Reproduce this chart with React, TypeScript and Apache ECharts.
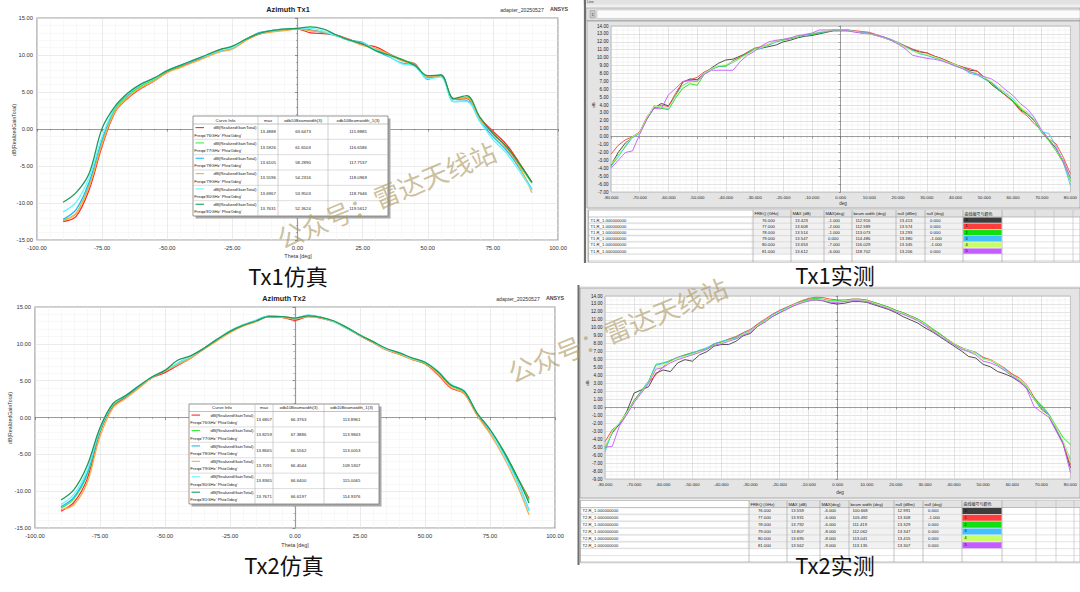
import React, { useEffect, useRef } from "react";
import * as echarts from "echarts";

// ---------------- data ----------------
const simTheta = [-90,-85,-80,-75,-70,-65,-60,-55,-50,-45,-40,-35,-30,-25,-20,-15,-10,-5,0,5,10,15,20,25,30,35,40,45,50,55,60,65,70,75,80,85,90];
const measTheta = [-80,-77.5,-75,-72.5,-70,-67.5,-65,-62.5,-60,-57.5,-55,-52.5,-50,-47.5,-45,-42.5,-40,-37.5,-35,-32.5,-30,-27.5,-25,-22.5,-20,-17.5,-15,-12.5,-10,-7.5,-5,-2.5,0,
  2.5,5,7.5,10,12.5,15,17.5,20,22.5,25,27.5,30,32.5,35,37.5,40,42.5,45,47.5,50,52.5,55,57.5,60,62.5,65,67.5,70,72.5,75,77.5,80];

const simFreqs = ["76GHz", "77GHz", "78GHz", "79GHz", "80GHz", "81GHz"];

// Tx1 simulation (dB)
const tx1Sim76 = [-12.5,-11.8,-8.2,-2.3,2.3,4.2,5.5,6.5,7.7,8.4,9.1,9.8,10.7,11.0,12.0,12.8,13.2,13.4,13.5,13.0,12.9,12.7,12.1,11.4,11.1,10.2,9.3,8.8,6.9,7.2,4.0,4.1,1.5,-0.3,-2.0,-4.5,-7.2];
const tx1Sim77 = [-12.3,-11.4,-7.6,-1.8,2.6,4.5,5.8,6.7,7.8,8.5,9.2,9.9,10.6,11.1,12.1,12.9,13.2,13.4,13.6,13.3,13.1,12.6,12.0,11.6,10.8,10.1,9.4,8.7,7.0,7.2,4.0,4.3,1.4,-0.6,-2.4,-4.8,-7.3];
const tx1Sim78 = [-12.2,-10.9,-7.2,-1.4,2.9,4.7,6.0,6.8,7.9,8.6,9.2,9.8,10.5,10.9,12.0,13.0,13.3,13.5,13.6,13.4,13.0,12.6,12.0,11.7,10.6,9.8,8.9,8.7,6.7,7.3,3.7,3.8,1.1,-1.0,-2.8,-5.2,-8.2];
const tx1Sim79 = [-12.4,-11.4,-7.8,-2.0,2.4,4.3,5.6,6.5,7.6,8.3,9.0,9.7,10.4,10.8,11.9,12.8,13.1,13.3,13.5,13.3,13.1,12.7,12.0,11.3,10.9,10.1,9.2,8.6,7.1,7.2,4.1,4.2,1.3,-0.6,-2.5,-5.0,-8.6];
const tx1Sim80 = [-11.2,-9.9,-6.6,-1.0,3.0,4.8,6.0,6.8,7.9,8.6,9.3,9.9,10.6,11.0,12.1,12.9,13.3,13.5,13.6,13.6,13.2,12.6,11.9,11.6,10.7,9.9,8.8,8.5,6.8,7.0,3.7,3.7,1.0,-1.4,-3.2,-5.6,-8.3];
const tx1Sim81 = [-9.9,-8.6,-6.0,0.1,3.1,4.9,6.1,6.9,7.9,8.6,9.3,10.0,10.7,11.2,12.1,12.9,13.3,13.5,13.6,13.8,13.5,12.7,12.0,11.5,10.6,10.0,9.4,8.6,7.2,7.3,4.1,4.5,1.6,-0.6,-2.3,-4.6,-7.2];

const tx1SimMax = ["13.4888", "13.5926", "13.6105", "13.5596", "13.6967", "13.7631"];
const tx1SimBw = ["63.6473", "61.6503", "58.2890", "54.2316", "53.9503", "52.3624"];
const tx1SimBw1 = ["115.8885", "116.6586", "117.7537", "118.0969", "118.7646", "119.5612"];

// Tx2 simulation (dB)
const tx2Sim76 = [-12.7,-11.5,-8.4,-2.0,1.5,2.8,4.1,5.4,6.1,7.1,8.1,9.3,10.5,11.6,12.5,13.1,13.7,13.6,13.2,13.7,13.5,13.0,12.1,11.1,10.2,9.2,8.6,7.9,7.3,5.8,4.0,3.3,0.4,-1.9,-4.6,-7.8,-11.0];
const tx2Sim77 = [-12.3,-11.0,-7.8,-1.8,1.7,2.9,4.2,5.5,6.3,7.3,8.2,9.4,10.5,11.7,12.5,13.1,13.7,13.7,13.4,13.8,13.6,13.1,12.2,11.2,10.3,9.3,8.6,8.0,7.3,6.1,4.3,3.5,0.6,-1.7,-4.5,-7.8,-11.2];
const tx2Sim78 = [-12.1,-10.8,-7.6,-1.7,1.8,2.9,4.2,5.5,6.3,7.4,8.3,9.4,10.6,11.7,12.5,13.2,13.8,13.7,13.4,13.9,13.6,13.0,12.1,11.1,10.2,9.3,8.7,8.0,7.5,6.2,4.4,3.6,0.5,-1.8,-4.8,-8.2,-12.6];
const tx2Sim79 = [-12.5,-11.8,-8.9,-2.6,1.3,2.6,4.0,5.4,6.3,7.2,8.1,9.3,10.4,11.5,12.4,13.0,13.7,13.6,13.4,13.7,13.5,13.0,12.1,11.1,10.2,9.2,8.6,7.9,7.4,5.9,4.1,3.3,0.3,-2.2,-5.2,-8.8,-13.2];
const tx2Sim80 = [-11.8,-10.4,-7.2,-1.6,1.8,3.0,4.3,5.5,6.4,7.4,8.3,9.4,10.6,11.8,12.6,13.2,13.7,13.7,13.5,13.9,13.6,13.0,12.1,11.2,10.3,9.3,8.8,8.0,7.5,6.3,4.5,3.6,0.6,-1.8,-4.9,-8.4,-12.7];
const tx2Sim81 = [-11.2,-9.8,-6.6,-1.4,1.9,3.0,4.3,5.5,6.4,7.8,8.4,9.4,10.6,11.7,12.5,13.1,13.7,13.7,13.5,13.8,13.6,13.1,12.2,11.2,10.3,9.4,8.8,8.1,7.5,6.2,4.4,3.6,0.6,-1.6,-4.4,-7.7,-11.6];

const tx2SimMax = ["13.6807", "13.8259", "13.8665", "13.7091", "13.8365", "13.7671"];
const tx2SimBw = ["66.3763", "67.3886", "66.5562", "66.4044", "66.6400", "66.6197"];
const tx2SimBw1 = ["113.8961", "113.9843", "113.0053", "109.5307", "115.0065", "114.9376"];

// Tx1 measured (dB), theta -80..80 step 2.5
const tx1Meas0 = [-3.6,-2.0,-0.8,-0.1,0.5,2.3,3.6,4.2,3.9,5.2,6.9,7.3,7.2,8.0,8.7,9.3,9.7,9.8,10.2,10.6,11.0,11.2,11.4,11.6,12.0,12.2,12.5,12.7,12.8,13.0,13.2,13.4,13.4,
  13.4,13.3,13.1,13.0,12.8,12.5,12.2,11.8,11.4,11.0,10.7,10.6,10.2,9.9,9.5,9.1,8.8,8.4,8.3,7.5,6.6,5.9,5.2,4.5,3.4,2.9,2.0,0.7,-0.4,-1.5,-3.0,-5.3];
const tx1Meas1 = [-2.2,-1.1,-0.4,0.0,0.6,2.5,3.6,4.0,3.8,5.5,6.9,7.2,7.5,8.2,8.6,8.9,9.0,9.6,10.1,10.7,11.2,11.4,11.7,12.1,12.3,12.4,12.7,12.9,13.0,13.2,13.3,13.5,13.5,
  13.5,13.4,13.3,13.2,12.9,12.6,12.3,11.9,11.5,11.1,10.8,10.6,10.2,9.9,9.5,9.1,8.8,8.6,8.3,7.5,6.8,6.0,5.2,4.4,3.3,2.6,1.6,0.8,-0.3,-0.9,-2.6,-4.7];
const tx1Meas2 = [-3.8,-2.3,-1.3,0.0,0.5,2.2,3.8,3.6,3.4,4.9,6.1,6.7,6.5,7.9,8.5,8.9,8.9,9.5,10.0,10.6,11.1,11.3,11.6,12.0,12.2,12.4,12.6,12.9,12.9,13.1,13.3,13.4,13.4,
  13.4,13.3,13.1,13.1,12.8,12.6,12.2,11.8,11.3,10.9,10.5,10.3,10.0,9.8,9.4,9.0,8.7,8.2,8.0,7.3,6.8,5.9,5.3,4.5,3.6,2.8,2.0,0.5,-0.5,-1.8,-3.3,-5.6];
const tx1Meas3 = [-3.7,-2.6,-1.2,-0.1,0.4,2.4,3.9,3.8,3.5,5.2,6.5,7.0,7.0,8.0,8.6,8.9,9.0,9.4,9.9,10.5,11.0,11.2,11.6,12.0,12.3,12.5,12.6,12.9,13.0,13.2,13.3,13.5,13.5,
  13.5,13.3,13.2,13.1,12.8,12.6,12.3,11.9,11.4,10.9,10.5,10.3,10.0,9.7,9.3,9.0,8.6,8.0,7.8,7.3,6.9,6.1,5.5,4.8,3.7,3.1,2.2,0.6,0.4,-1.2,-3.2,-6.2];
const tx1Meas4 = [-3.5,-2.4,-1.0,0.0,0.5,2.4,3.8,3.8,3.6,5.1,6.4,6.9,6.9,8.0,8.6,9.0,9.1,9.5,9.9,10.4,11.0,11.3,11.7,12.1,12.3,12.5,12.7,13.0,13.1,13.3,13.4,13.5,13.5,
  13.4,13.3,13.1,13.0,12.8,12.5,12.2,11.8,11.3,10.8,10.6,10.4,10.1,9.8,9.4,9.1,8.7,8.2,8.0,7.5,7.0,6.3,5.6,4.9,3.8,3.0,2.2,0.7,-0.3,-1.3,-3.1,-5.4];
const tx1Meas5 = [-4.0,-3.0,-2.0,-1.8,0.3,2.2,3.6,3.5,5.3,6.1,7.0,7.1,7.0,7.9,8.4,8.4,8.4,8.4,9.5,10.3,10.8,11.5,12.0,12.2,12.3,12.5,12.8,12.9,13.1,13.5,13.5,13.5,13.5,
  13.4,13.2,13.1,13.1,12.8,12.6,12.2,11.7,11.1,10.3,10.1,9.9,9.8,9.6,9.3,8.9,8.6,8.2,7.9,7.6,7.3,6.7,5.9,5.2,4.2,3.5,2.4,0.8,-0.4,-1.4,-3.2,-5.2];

// Tx2 measured (dB), theta -80..80 step 2.5
const tx2Meas0 = [-5.0,-3.2,-2.1,-0.5,1.8,2.2,2.6,4.3,4.7,4.5,5.6,6.0,5.8,6.6,7.0,7.7,7.9,7.9,8.3,9.0,9.3,10.2,10.8,11.4,11.9,12.4,12.8,13.2,13.4,13.5,13.4,13.1,13.0,
  13.1,13.3,13.3,13.2,12.9,12.6,12.3,11.9,11.4,11.0,10.6,10.0,9.5,8.9,8.3,7.7,7.1,6.4,6.2,5.4,5.1,4.5,4.2,3.8,3.2,2.4,1.0,-0.2,-1.0,-2.8,-4.6,-7.6];
const tx2Meas1 = [-4.3,-2.8,-2.1,-0.8,0.9,2.0,3.1,4.1,5.1,5.9,6.3,6.6,6.8,7.1,7.3,8.0,8.2,8.6,8.9,9.4,9.8,10.5,11.1,11.7,12.2,12.6,13.0,13.4,13.7,13.85,13.8,13.6,13.5,
  13.5,13.6,13.6,13.5,13.2,12.9,12.6,12.2,11.9,11.5,11.1,10.5,9.8,9.2,8.6,8.0,7.5,7.2,6.9,6.3,6.0,5.5,4.9,4.2,3.7,2.8,1.3,0.1,-0.9,-2.5,-4.4,-7.2];
const tx2Meas2 = [-5.2,-3.1,-1.9,-0.6,0.8,2.1,3.3,5.4,5.6,5.9,6.2,6.6,6.9,7.1,7.4,7.9,8.2,8.5,8.8,9.3,9.6,10.4,10.9,11.6,12.1,12.5,12.9,13.3,13.6,13.7,13.6,13.4,13.4,
  13.4,13.6,13.6,13.4,13.2,12.9,12.6,12.2,11.9,11.5,11.1,10.6,9.9,9.3,8.6,8.0,7.5,7.1,6.8,6.2,5.9,5.4,4.7,4.1,3.5,2.6,1.2,0.3,-0.8,-2.3,-3.8,-4.7];
const tx2Meas3 = [-5.6,-3.0,-2.0,-0.7,0.7,2.0,3.2,5.3,5.5,5.8,6.3,6.5,6.8,7.2,7.5,8.0,8.3,8.5,8.7,9.3,9.6,10.4,10.9,11.6,12.1,12.5,12.9,13.2,13.5,13.6,13.5,13.3,13.3,
  13.4,13.5,13.5,13.4,13.1,12.8,12.5,12.1,11.8,11.4,11.0,10.4,9.7,9.1,8.5,7.9,7.4,7.2,6.9,6.1,5.9,5.4,4.8,4.0,3.4,2.5,1.1,-0.1,-0.9,-2.6,-4.3,-6.6];
const tx2Meas4 = [-5.0,-3.0,-1.9,-0.7,0.7,1.9,3.1,5.0,5.3,5.7,6.2,6.4,6.7,7.0,7.3,7.8,8.1,8.4,8.6,9.2,9.5,10.3,10.8,11.5,12.0,12.4,12.9,13.2,13.4,13.5,13.5,13.3,13.3,
  13.4,13.5,13.5,13.4,13.1,12.8,12.5,12.1,11.8,11.4,11.0,10.5,9.7,9.1,8.5,8.0,7.4,7.2,6.8,6.1,5.9,5.5,4.7,4.0,3.5,2.7,1.0,-0.4,-1.0,-2.4,-4.2,-6.9];
const tx2Meas5 = [-5.0,-4.9,-2.3,-0.9,0.6,1.8,3.0,4.8,5.0,5.6,6.0,6.3,6.6,6.9,7.3,7.8,8.0,8.3,8.6,9.1,9.4,10.2,10.7,11.4,11.9,12.3,12.8,13.1,13.4,13.5,13.4,13.2,13.2,
  13.3,13.4,13.4,13.3,13.0,12.7,12.4,12.0,11.7,11.3,10.9,10.3,9.6,9.0,8.4,7.9,7.3,7.0,6.6,5.8,5.6,5.2,4.6,3.9,3.3,2.3,0.1,-0.6,-1.2,-2.9,-4.6,-8.2];

// measured tables
const measHeaders = ["FREQ (GHz)", "MAX (dB)", "MAX(deg)", "beam width (deg)", "null (dBm)", "null (deg)", "曲线编号与颜色"];
const measFreq = ["76.000", "77.000", "78.000", "79.000", "80.000", "81.000"];
const curveIds = ["0", "1", "2", "3", "4", "5"];

const tx1MeasMax = ["13.423", "13.608", "13.514", "13.547", "13.653", "13.612"];
const tx1MeasMaxDeg = ["-1.000", "-2.000", "-1.000", "0.000", "-7.000", "-6.000"];
const tx1MeasBw = ["112.916", "112.589", "113.073", "114.486", "116.029", "118.702"];
const tx1MeasNull = ["13.413", "13.574", "13.293", "13.380", "13.345", "13.206"];
const tx1MeasNullDeg = ["0.000", "0.000", "0.000", "-1.000", "-1.000", "0.000"];

const tx2MeasMax = ["13.559", "13.931", "13.792", "13.807", "13.695", "13.562"];
const tx2MeasMaxDeg = ["-6.000", "-6.000", "-6.000", "-8.000", "-8.000", "-9.000"];
const tx2MeasBw = ["100.668", "105.492", "111.419", "112.062", "113.041", "113.135"];
const tx2MeasNull = ["12.991", "13.308", "13.329", "13.347", "13.415", "13.307"];
const tx2MeasNullDeg = ["0.000", "-1.000", "0.000", "0.000", "0.000", "0.000"];

// ---------------- styles ----------------
const FONT = "'Liberation Sans', Arial, sans-serif";
const CJK = "'Noto Sans CJK SC', 'Noto Sans', sans-serif";
const simColors = ["#ff2a2a", "#3cf03c", "#22b8f2", "#ffa848", "#66f6ff", "#209a58"];
const measColors = ["#3c3c3c", "#ff3d3d", "#12e012", "#42c0ff", "#c8ff66", "#c45cff"];

function txt(x: number, y: number, text: string, size: number, o: any = {}) {
  return {
    type: "text",
    x,
    y,
    z: o.z ?? 60,
    rotation: o.rotation ?? 0,
    silent: true,
    style: {
      text,
      fontSize: size,
      fontFamily: o.font ?? FONT,
      fontWeight: o.weight ?? "normal",
      fill: o.fill ?? "#222",
      align: o.align ?? "center",
      verticalAlign: o.va ?? "middle",
    },
  };
}
function ln(x1: number, y1: number, x2: number, y2: number, stroke: string, w: number, z = 50) {
  return { type: "line", z, silent: true, shape: { x1, y1, x2, y2 }, style: { stroke, lineWidth: w } };
}
function rc(x: number, y: number, width: number, height: number, fill: string, stroke?: string, w = 0.6, z = 50) {
  return {
    type: "rect",
    z,
    silent: true,
    shape: { x, y, width, height },
    style: stroke ? { fill, stroke, lineWidth: w } : { fill },
  };
}

function simTable(x0: number, x1: number, y0: number, yh: number, y1: number, c1: number, c2: number, c3: number,
  maxA: string[], bwA: string[], bw1A: string[]) {
  const els: any[] = [];
  const w = x1 - x0;
  const h = y1 - y0;
  els.push(rc(x0 + 2.5, y0 + 2.5, w, h, "#a9a9a9", undefined, 0, 40));
  els.push(rc(x0, y0, w, h, "#ffffff", "#7c7c7c", 0.8, 41));
  const rh = (y1 - yh) / 6;
  els.push(ln(x0, yh, x1, yh, "#9a9a9a", 0.6, 42));
  for (let i = 1; i < 6; i++) els.push(ln(x0, yh + i * rh, x1, yh + i * rh, "#c8c8c8", 0.6, 42));
  [c1, c2, c3].forEach((c) => els.push(ln(c, y0, c, y1, "#b4b4b4", 0.6, 42)));
  const hy = (y0 + yh) / 2;
  const fs = 4.3;
  els.push(txt((x0 + c1) / 2, hy, "Curve Info", fs, { z: 43 }));
  els.push(txt((c1 + c2) / 2, hy, "max", fs, { z: 43 }));
  els.push(txt((c2 + c3) / 2, hy, "xdb10Beamwidth(3)", fs, { z: 43 }));
  els.push(txt((c3 + x1) / 2, hy, "xdb10Beamwidth_1(3)", fs, { z: 43 }));
  for (let i = 0; i < 6; i++) {
    const yt = yh + i * rh;
    els.push(ln(x0 + 2.5, yt + 3.6, x0 + 11, yt + 3.6, simColors[i], 1.1, 43));
    els.push(txt(c1 - 1.5, yt + 3.8, "dB(RealizedGainTotal)", fs, { align: "right", z: 43 }));
    els.push(txt(x0 + 1.2, yt + rh - 4.2, "Freq='" + simFreqs[i] + "' Phi='0deg'", fs, { align: "left", z: 43 }));
    els.push(txt((c1 + c2) / 2, yt + rh / 2, maxA[i], fs, { z: 43 }));
    els.push(txt((c2 + c3) / 2, yt + rh / 2, bwA[i], fs, { z: 43 }));
    els.push(txt((c3 + x1) / 2, yt + rh / 2, bw1A[i], fs, { z: 43 }));
  }
  return els;
}

function measTable(xL: number, xR: number, yT: number, hdrH: number, rowH: number, yB: number, seps: number[],
  name: string, cols: string[][]) {
  const els: any[] = [];
  const z = 45;
  els.push(rc(xL, yT, xR - xL, yB - yT, "#ffffff", "#9c9c9c", 0.6, z));
  els.push(rc(seps[0], yT, xR - seps[0], hdrH, "#e2e2e2", undefined, 0, z));
  els.push(rc(seps[0], yT + hdrH, seps[6] - seps[0], rowH * 6, "#f1f1f1", undefined, 0, z));
  let y = yT + hdrH;
  els.push(ln(xL, y, xR, y, "#9a9a9a", 0.6, z + 1));
  while (y + rowH <= yB + 0.5) {
    y += rowH;
    els.push(ln(xL, y, xR, y, "#c6c6c6", 0.5, z + 1));
  }
  seps.forEach((s, k) => els.push(ln(s, yT, s, yB, k < 8 ? "#9a9a9a" : "#b8b8b8", 0.6, z + 1)));
  els.push(ln(xL + 0.5, yT, xL + 0.5, yB, "#9a9a9a", 0.6, z + 1));
  const fs = 4.2;
  for (let k = 0; k < 7; k++) {
    els.push(txt(seps[k] + 1.5, yT + hdrH / 2, measHeaders[k], k === 6 ? 4 : fs, { align: "left", z: z + 3, font: k === 6 ? CJK : FONT }));
  }
  const offs = [9, 4, 4, 3.5, 3.5, 5];
  for (let i = 0; i < 6; i++) {
    const yc = yT + hdrH + rowH * i + rowH / 2;
    els.push(rc(xL + 1, yT + hdrH + rowH * i + 0.5, seps[0] - xL - 2, rowH - 1, "#ffffff", "#d0d0d0", 0.4, z + 2));
    els.push(txt(xL + 2.5, yc, name, fs, { align: "left", z: z + 3 }));
    for (let k = 0; k < 6; k++) {
      els.push(txt(seps[k] + offs[k], yc, cols[k][i], fs, { align: "left", z: z + 3 }));
    }
    els.push(rc(seps[6] + 0.4, yT + hdrH + rowH * i + 0.4, seps[7] - seps[6] - 0.8, rowH - 0.8, measColors[i], undefined, 0, z + 2));
    els.push(txt(seps[6] + 2.5, yc, curveIds[i], 3.8, { align: "left", z: z + 3, fill: "#000" }));
  }
  return els;
}

function simAxes(grid: number, yMin: number) {
  const common = {
    type: "value",
    gridIndex: grid,
    axisLine: { show: true, lineStyle: { color: "#9a9a9a", width: 1.2 } },
    axisTick: { show: true, length: 2.5, lineStyle: { color: "#555", width: 0.6 } },
    minorTick: { show: true, splitNumber: 5, length: 1.5, lineStyle: { color: "#777", width: 0.5 } },
    splitLine: { show: true, lineStyle: { color: "#dddddd", width: 0.6 } },
    minorSplitLine: { show: true, lineStyle: { color: "#f0f0f0", width: 0.5 } },
  };
  const x = {
    ...common,
    min: -100,
    max: 100,
    interval: 25,
    axisLabel: { fontSize: 5.8, color: "#333", margin: 4.5, showMinLabel: true, showMaxLabel: true, formatter: (v: number) => v.toFixed(2) },
  };
  const y = {
    ...common,
    min: yMin,
    max: 15,
    interval: 5,
    axisLabel: { fontSize: 5.8, color: "#333", margin: 4, showMinLabel: true, showMaxLabel: true, formatter: (v: number) => v.toFixed(2) },
  };
  return { x, y };
}

function measAxes(grid: number, yMin: number, yMax: number) {
  const common = {
    type: "value",
    gridIndex: grid,
    axisLine: { show: true, lineStyle: { color: "#8a8a8a", width: 0.8 } },
    axisTick: { show: true, length: 2, lineStyle: { color: "#555", width: 0.5 } },
    splitLine: { show: true, lineStyle: { color: "#c9c9c9", width: 0.5 } },
    minorSplitLine: { show: true, lineStyle: { color: "#e6e6e6", width: 0.4 } },
  };
  const x = {
    ...common,
    min: -80,
    max: 80,
    interval: 10,
    minorTick: { show: true, splitNumber: 5, length: 1, lineStyle: { color: "#888", width: 0.4 } },
    axisLabel: { fontSize: 4.3, color: "#222", margin: 3, showMinLabel: true, showMaxLabel: true, formatter: (v: number) => v.toFixed(3) },
  };
  const y = {
    ...common,
    min: yMin,
    max: yMax,
    interval: 1,
    minorTick: { show: true, splitNumber: 2, length: 1, lineStyle: { color: "#888", width: 0.4 } },
    axisLabel: { fontSize: 4.6, color: "#222", margin: 2.5, showMinLabel: true, showMaxLabel: true, formatter: (v: number) => v.toFixed(2) },
  };
  return { x, y };
}

function mkSeries(theta: number[], arrs: number[][], colors: string[], idx: number, smooth: number | boolean, width: number) {
  return arrs.map((a, i) => ({
    type: "line",
    xAxisIndex: idx,
    yAxisIndex: idx,
    data: theta.map((t, j) => [t, a[j]]),
    symbol: "none",
    showSymbol: false,
    smooth,
    silent: true,
    z: 3 + i,
    lineStyle: { color: colors[i], width },
  }));
}

function buildOption() {
  const a0 = simAxes(0, -15);
  const a1 = measAxes(1, -7, 14);
  const a2 = simAxes(2, -15);
  const a3 = measAxes(3, -9, 14);

  const tx1Seps = [753, 791, 824, 852, 896, 925, 963, 1002, 1035, 1054, 1073];
  const tx2Seps = [749, 787, 820, 849, 894, 923, 962, 1002, 1036, 1056, 1074];

  const graphics: any[] = [
    // ---- measured window frames (behind plots) ----
    rc(583, 0, 497, 263, "#efefef", undefined, 0, -5),
    rc(583, 0, 497, 4.5, "#e2e2e2", undefined, 0, -4),
    txt(587, 2.2, "Line", 3.6, { align: "left", z: -3, fill: "#444" }),
    rc(586, 8, 494, 12.5, "#dedede", "#9a9a9a", 0.6, -4),
    rc(597, 10, 483, 8.5, "#fbfbfb", "#b5b5b5", 0.5, -3),
    rc(590, 10.5, 5, 7.5, "#c9c9c9", "#8a8a8a", 0.4, -3),
    txt(592.5, 14.3, "1", 4, { z: -2, fill: "#333" }),
    rc(587, 21, 493, 187, "#e4e4e4", "#a0a0a0", 0.8, -4),
    ln(585, 0, 585, 263, "#6f6f6f", 2, -2),

    rc(578, 286, 502, 278, "#efefef", undefined, 0, -5),
    rc(580, 288, 500, 210, "#e4e4e4", "#a0a0a0", 0.8, -4),
    ln(578.5, 285, 578.5, 565, "#6f6f6f", 2, -2),

    // ---- simulation titles ----
    txt(288, 9.5, "Azimuth Tx1", 7.3, { weight: "bold", fill: "#222" }),
    txt(522, 9.5, "adapter_20250527", 5.2, { fill: "#333" }),
    txt(559, 9, "ANSYS", 5.3, { weight: "bold", fill: "#444" }),
    txt(298, 256, "Theta [deg]", 5.4, { fill: "#333" }),
    txt(13.5, 130, "dB(RealizedGainTotal)", 5.2, { rotation: Math.PI / 2, fill: "#333" }),

    txt(284, 298.5, "Azimuth Tx2", 7.3, { weight: "bold", fill: "#222" }),
    txt(518, 298.5, "adapter_20250527", 5.2, { fill: "#333" }),
    txt(555, 298, "ANSYS", 5.3, { weight: "bold", fill: "#444" }),
    txt(295, 545, "Theta [deg]", 5.4, { fill: "#333" }),
    txt(9.5, 418, "dB(RealizedGainTotal)", 5.2, { rotation: Math.PI / 2, fill: "#333" }),

    // ---- measured axis names ----
    txt(843, 203, "deg", 4.6, { fill: "#333" }),
    txt(593, 105, "dB", 4.4, { rotation: Math.PI / 2, fill: "#333" }),
    txt(840, 492, "deg", 4.6, { fill: "#333" }),
    txt(587, 383, "dB", 4.4, { rotation: Math.PI / 2, fill: "#333" }),

    // ---- tables ----
    ...simTable(193, 388, 116, 124, 216, 258, 278, 328, tx1SimMax, tx1SimBw, tx1SimBw1),
    ...simTable(189, 379, 404, 411.5, 504, 255, 273, 324, tx2SimMax, tx2SimBw, tx2SimBw1),
    ...measTable(588, 1080, 210, 7, 6.2, 262, tx1Seps, "T1,R_1.000000000",
      [measFreq, tx1MeasMax, tx1MeasMaxDeg, tx1MeasBw, tx1MeasNull, tx1MeasNullDeg]),
    ...measTable(580, 1080, 500.5, 7, 6.85, 562, tx2Seps, "T2,R_1.000000000",
      [measFreq, tx2MeasMax, tx2MeasMaxDeg, tx2MeasBw, tx2MeasNull, tx2MeasNullDeg]),

    // ---- captions ----
    txt(288, 275, "Tx1仿真", 22, { font: CJK, fill: "#111", z: 70 }),
    txt(835, 274, "Tx1实测", 22, { font: CJK, fill: "#111", z: 70 }),
    txt(284, 564, "Tx2仿真", 22, { font: CJK, fill: "#111", z: 70 }),
    txt(835, 564, "Tx2实测", 22, { font: CJK, fill: "#111", z: 70 }),

    // ---- watermarks ----
    txt(386, 194, "公众号：雷达天线站", 26, { font: CJK, fill: "rgba(172,152,96,0.62)", rotation: (22.5 * Math.PI) / 180, z: 80 }),
    txt(617, 329, "公众号：雷达天线站", 26, { font: CJK, fill: "rgba(172,152,96,0.62)", rotation: (22 * Math.PI) / 180, z: 80 }),
  ];

  return {
    animation: false,
    backgroundColor: "#ffffff",
    textStyle: { fontFamily: FONT },
    grid: [
      { left: 37, top: 18, width: 521, height: 222, show: true, backgroundColor: "#fff", borderColor: "#9a9a9a", borderWidth: 1.2 },
      { left: 611, top: 26, width: 463, height: 166, show: true, backgroundColor: "#fff", borderColor: "#a0a0a0", borderWidth: 0.6 },
      { left: 35, top: 307, width: 520, height: 221, show: true, backgroundColor: "#fff", borderColor: "#9a9a9a", borderWidth: 1.2 },
      { left: 605, top: 296, width: 470, height: 183, show: true, backgroundColor: "#fff", borderColor: "#a0a0a0", borderWidth: 0.6 },
    ],
    xAxis: [a0.x, a1.x, a2.x, a3.x],
    yAxis: [a0.y, a1.y, a2.y, a3.y],
    series: [
      ...mkSeries(simTheta, [tx1Sim76, tx1Sim77, tx1Sim78, tx1Sim79, tx1Sim80, tx1Sim81], simColors, 0, 0.35, 1.3),
      ...mkSeries(measTheta, [tx1Meas0, tx1Meas1, tx1Meas2, tx1Meas3, tx1Meas4, tx1Meas5], measColors, 1, false, 0.9),
      ...mkSeries(simTheta, [tx2Sim76, tx2Sim77, tx2Sim78, tx2Sim79, tx2Sim80, tx2Sim81], simColors, 2, 0.35, 1.3),
      ...mkSeries(measTheta, [tx2Meas0, tx2Meas1, tx2Meas2, tx2Meas3, tx2Meas4, tx2Meas5], measColors, 3, false, 0.9),
    ],
    graphic: { elements: graphics },
  };
}

export default function App() {
  const ref = useRef<HTMLDivElement>(null);
  useEffect(() => {
    if (!ref.current) return;
    const chart = echarts.init(ref.current, undefined, { renderer: "svg" });
    chart.setOption(buildOption() as any);
    return () => chart.dispose();
  }, []);
  return (
    <div
      ref={ref}
      style={{ position: "absolute", left: 0, top: 0, width: 1080, height: 592, background: "#fff" }}
    />
  );
}
